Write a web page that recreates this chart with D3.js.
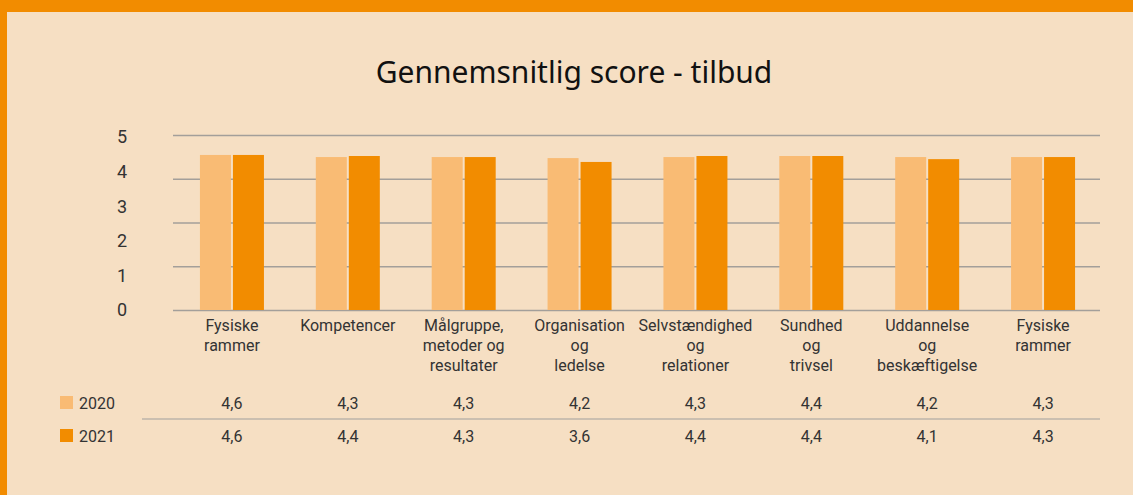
<!DOCTYPE html>
<html>
<head>
<meta charset="utf-8">
<script src="https://cdn.jsdelivr.net/npm/d3@7"></script>
<style>
  body { margin: 0; background: #f6dfc3; }
  svg { display: block; }
  text { font-family: Roboto, "Liberation Sans", sans-serif; fill: #333; }
  .title { font-family: "Noto Sans", "Open Sans", sans-serif; fill: #111; }
</style>
</head>
<body>
<svg width="1133" height="495"></svg>
<script>
// category labels (line breaks as in the picture)
var categories = [
    ['Fysiske', 'rammer'],
    ['Kompetencer'],
    ['Målgruppe,', 'metoder og', 'resultater'],
    ['Organisation', 'og', 'ledelse'],
    ['Selvstændighed', 'og', 'relationer'],
    ['Sundhed', 'og', 'trivsel'],
    ['Uddannelse', 'og', 'beskæftigelse'],
    ['Fysiske', 'rammer']
];
var years = ['2020', '2021'];

// bar heights as drawn
var bars2020 = [4.43, 4.37, 4.37, 4.34, 4.37, 4.40, 4.37, 4.37];
var bars2021 = [4.43, 4.40, 4.37, 4.23, 4.40, 4.40, 4.31, 4.37];

// values printed in the table below
var table2020 = ['4,6', '4,3', '4,3', '4,2', '4,3', '4,4', '4,2', '4,3'];
var table2021 = ['4,6', '4,4', '4,3', '3,6', '4,4', '4,4', '4,1', '4,3'];

var yLabels = [0, 1, 2, 3, 4, 5];
var gridValues = [0, 1.25, 2.5, 3.75, 5];

var colors = ['#f9bb74', '#f28c00'];

var svg = d3.select('svg');
var W = +svg.attr('width');
var H = +svg.attr('height');

// orange frame (top + left)
svg.append('rect').attr('x', 0).attr('y', 0).attr('width', W).attr('height', 12).attr('fill', '#f28c00');
svg.append('rect').attr('x', 0).attr('y', 0).attr('width', 7).attr('height', H).attr('fill', '#f28c00');

svg.append('text')
    .attr('class', 'title')
    .attr('x', 574).attr('y', 83)
    .attr('text-anchor', 'middle')
    .style('font-size', '30px')
    .text('Gennemsnitlig score - tilbud');

var plot = {l: 173, r: 1100, t: 135, b: 310};

var x = d3.scaleBand()
    .domain(d3.range(categories.length))
    .range([plot.l, plot.r]);

var y = d3.scaleLinear()
    .domain([0, 5])
    .range([plot.b, plot.t]);

// gridlines
var grid = d3.axisLeft(y)
    .tickValues(gridValues)
    .tickSize(-(plot.r - plot.l))
    .tickFormat('');
var gridG = svg.append('g')
    .attr('transform', 'translate(' + plot.l + ',0)')
    .call(grid);
gridG.select('.domain').remove();
gridG.selectAll('line').attr('stroke', '#a39f9a').attr('stroke-width', 1.3);

// y labels
var yLab = d3.scaleLinear().domain([0, 5]).range([310, 137]);
svg.selectAll('.ylab')
    .data(yLabels)
    .enter()
    .append('text')
    .attr('class', 'ylab')
    .attr('x', 127)
    .attr('y', function(d) { return yLab(d); })
    .attr('dy', '0.35em')
    .attr('text-anchor', 'end')
    .style('font-size', '18px')
    .text(function(d) { return d; });

// bars
var barW = 31, gap = 2;
var series = [bars2020, bars2021];
series.forEach(function(vals, s) {
    svg.selectAll('.bar' + s)
        .data(vals)
        .enter()
        .append('rect')
        .attr('class', 'bar' + s)
        .attr('x', function(d, i) {
            var c = x(i) + x.bandwidth() / 2 + 1;
            return s == 0 ? c - gap / 2 - barW : c + gap / 2;
        })
        .attr('y', function(d) { return y(d); })
        .attr('width', barW)
        .attr('height', function(d) { return plot.b - y(d); })
        .attr('fill', colors[s]);
});

// category labels
svg.selectAll('.cat')
    .data(categories)
    .enter()
    .append('text')
    .attr('class', 'cat')
    .attr('text-anchor', 'middle')
    .style('font-size', '16px')
    .each(function(lines, i) {
        var t = d3.select(this);
        lines.forEach(function(line, k) {
            t.append('tspan')
                .attr('x', x(i) + x.bandwidth() / 2 + 1)
                .attr('y', 331 + k * 20)
                .text(line);
        });
    });

// data table
var rows = [table2020, table2021];
var rowY = [403, 436];
rows.forEach(function(vals, r) {
    svg.append('rect')
        .attr('x', 60).attr('y', rowY[r] - 7)
        .attr('width', 13).attr('height', 13)
        .attr('fill', colors[r]);
    svg.append('text')
        .attr('x', 79).attr('y', rowY[r])
        .attr('dy', '0.35em')
        .style('font-size', '16px')
        .text(years[r]);
    svg.selectAll('.val' + r)
        .data(vals)
        .enter()
        .append('text')
        .attr('class', 'val' + r)
        .attr('x', function(d, i) { return x(i) + x.bandwidth() / 2 + 1; })
        .attr('y', rowY[r])
        .attr('dy', '0.35em')
        .attr('text-anchor', 'middle')
        .style('font-size', '16px')
        .text(function(d) { return d; });
});

svg.append('line')
    .attr('x1', 142).attr('x2', plot.r)
    .attr('y1', 419).attr('y2', 419)
    .attr('stroke', '#bdb5aa').attr('stroke-width', 1.3);
</script>
</body>
</html>
